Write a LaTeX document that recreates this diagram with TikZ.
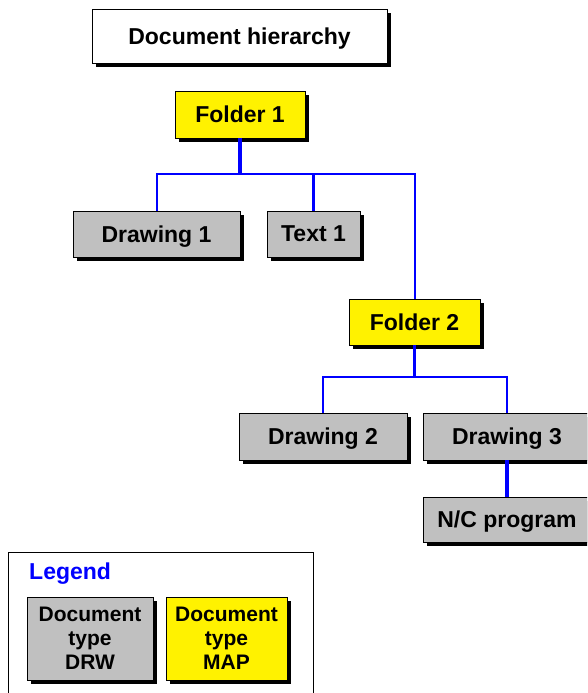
\documentclass[tikz,border=0pt]{standalone}
\usepackage{fontspec}
\setmainfont{Liberation Sans}
\usetikzlibrary{shadows}
\definecolor{boxgray}{RGB}{192,192,192}
\definecolor{linkblue}{RGB}{0,0,255}

\begin{document}
\begin{tikzpicture}[x=1pt, y=-1pt,
  box/.style={rectangle, draw=black, line width=0.8pt, inner sep=0pt, text depth=0pt,
    font=\bfseries\fontsize{23}{24}\selectfont,
    drop shadow={shadow xshift=4pt, shadow yshift=-4pt, opacity=1, fill=black}},
  docbox/.style={box, fill=boxgray},
  mapbox/.style={box, fill=yellow},
  link/.style={draw=linkblue, line width=2pt},
  thicklink/.style={draw=linkblue, line width=3.2pt}]
\useasboundingbox (0,0) rectangle (587,693);
\clip (0,0) rectangle (587,693);

\node[box, fill=white, minimum width=295pt, minimum height=54pt] (title) at (239.5,36) {Document hierarchy};
\node[mapbox, minimum width=130pt, minimum height=47pt] (f1) at (240,114.5) {Folder 1};
\node[docbox, minimum width=167pt, minimum height=46pt] (d1) at (156.5,234) {Drawing 1};
\node[docbox, minimum width=93pt, minimum height=46pt] (t1) at (313.5,234) {Text 1};
\node[mapbox, minimum width=131pt, minimum height=46pt] (f2) at (414.5,322) {Folder 2};
\node[docbox, minimum width=168pt, minimum height=47pt] (d2) at (323,436.5) {Drawing 2};
\node[docbox, minimum width=168pt, minimum height=47pt] (d3) at (507,436.5) {Drawing 3};
\node[docbox, minimum width=168pt, minimum height=45pt] (nc) at (507,519.5) {N/C program};

\coordinate (b1) at (240,174);
\coordinate (b2) at (414.5,377);
\draw[thicklink] (f1) -- (b1);
\draw[link] (b1) -| (d1);
\draw[link] (b1) -| (f2);
\draw[thicklink] (b1 -| t1) -- (t1);
\draw[thicklink] (f2) -- (b2);
\draw[link] (b2) -| (d2);
\draw[link] (b2) -| (d3);
\draw[thicklink] (d3) -- (nc);

\node[draw=black, line width=0.8pt, minimum width=305pt, minimum height=160pt] (legend) at (160.5,632) {};
\node[anchor=west, inner sep=0pt, text=linkblue, font=\bfseries\fontsize{23}{24}\selectfont] (legendlbl) at (29,574) {Legend};
\node[docbox, minimum width=126pt, minimum height=83pt, align=center,
  font=\bfseries\fontsize{21}{24}\selectfont] (lgdrw) at (90,638.5) {Document\\type\\DRW};
\node[mapbox, minimum width=121pt, minimum height=83pt, align=center,
  font=\bfseries\fontsize{21}{24}\selectfont] (lgmap) at (226.5,638.5) {Document\\type\\MAP};
\end{tikzpicture}
\end{document}
